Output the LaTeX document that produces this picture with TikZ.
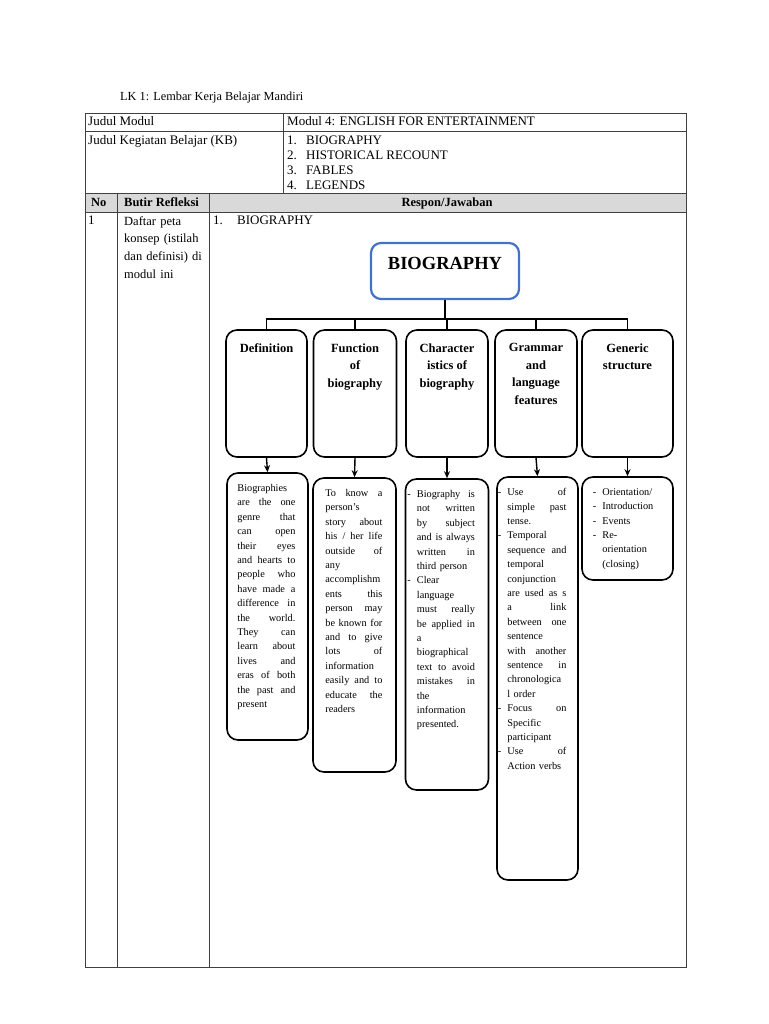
\documentclass[tikz,border=0pt]{standalone}
\usepackage{fontspec}
\setmainfont{Liberation Serif}
\usetikzlibrary{positioning, calc, arrows.meta}
\definecolor{bioblue}{HTML}{4472C4}
\definecolor{headgray}{HTML}{D9D9D9}
\newcommand{\jl}[1]{\leavevmode\hbox to \hsize{\spaceskip=3pt plus 40pt\relax #1}}
\newcommand{\dsh}{\leavevmode\llap{-\hspace{6pt}}}

\begin{document}
\begin{tikzpicture}[
  x=1pt, y=-1pt, >={Stealth[length=7pt, width=6pt]},
  tline/.style={draw=black!75, line width=0.9pt},
  cell/.style={anchor=base west, inner sep=0pt, font=\fontsize{13}{15}\selectfont},
  hbox/.style={draw, line width=1.6pt, rounded corners=11pt, minimum height=127pt},
  dbox/.style={draw, line width=1.6pt, rounded corners=11pt},
  htext/.style={inner sep=0pt, align=center, font=\bfseries\fontsize{12.5}{17.5}\selectfont},
  dtext/.style={inner sep=0pt, align=left, font=\fontsize{10.3}{14.4}\selectfont}
  ]
  \useasboundingbox (0,0) rectangle (768,1024);

  % table frame
  \fill[headgray] (85,193) rectangle (686,212);
  \draw[tline] (85,113) rectangle (686,967);
  \draw[tline] (85,131) -- (686,131);
  \draw[tline] (85,193) -- (686,193);
  \draw[tline] (85,212) -- (686,212);
  \draw[tline] (283,113) -- (283,193);
  \draw[tline] (117,193) -- (117,967);
  \draw[tline] (209,193) -- (209,967);

  \node[cell, font=\fontsize{12.3}{15}\selectfont] (title) at (120,101) {LK 1: Lembar Kerja Belajar Mandiri};
  \node[cell] (modL) at (88,126) {Judul Modul};
  \node[cell] (modR) at (287,126) {Modul 4: ENGLISH FOR ENTERTAINMENT};
  \node[cell] (kbL) at (88,144.5) {Judul Kegiatan Belajar (KB)};
  \node[cell] (kb1) at (287,144.5) {1.};
  \node[cell] (kb1t) at (306,144.5) {BIOGRAPHY};
  \node[cell] (kb2) at (287,159.5) {2.};
  \node[cell] (kb2t) at (306,159.5) {HISTORICAL RECOUNT};
  \node[cell] (kb3) at (287,174.5) {3.};
  \node[cell] (kb3t) at (306,174.5) {FABLES};
  \node[cell] (kb4) at (287,189.5) {4.};
  \node[cell] (kb4t) at (306,189.5) {LEGENDS};
  \node[cell, font=\bfseries\fontsize{12.5}{15}\selectfont] (hNo) at (91,207) {No};
  \node[cell, font=\bfseries\fontsize{12.5}{15}\selectfont] (hButir) at (124,207) {Butir Refleksi};
  \node[cell, anchor=base, font=\bfseries\fontsize{12.5}{15}\selectfont] (hResp) at (447,207) {Respon/Jawaban};
  \node[cell] (no1) at (88,225) {1};
  \node[cell, anchor=north west, text width=84pt, align=left,
        font=\fontsize{12.5}{17.8}\selectfont] (butir) at (124,216) {Daftar peta\\ konsep (istilah\\ dan definisi) di\\ modul ini};
  \node[cell] (r1) at (213,225) {1.};
  \node[cell] (r1t) at (237,225) {BIOGRAPHY};

  % concept map
  \node[draw=bioblue, line width=2.2pt, rounded corners=10pt, minimum width=148pt, minimum height=56pt,
        text depth=15pt, font=\bfseries\fontsize{18.5}{20}\selectfont] (bio) at (445,271) {BIOGRAPHY};

  \node[hbox, minimum width=81pt] (defH) at (266.5,393.5) {};
  \node[hbox, minimum width=83pt] (funH) at (355,393.5) {};
  \node[hbox, minimum width=82pt] (chaH) at (447,393.5) {};
  \node[hbox, minimum width=82pt] (graH) at (536,393.5) {};
  \node[hbox, minimum width=91pt] (genH) at (627.5,393.5) {};

  \node[htext, below=14pt of defH.north] (defL) {Definition};
  \node[htext, below=14pt of funH.north] (funL) {Function\\ of\\ biography};
  \node[htext, below=14pt of chaH.north] (chaL) {Character\\ istics of\\ biography};
  \node[htext, below=14pt of graH.north] (graL) {Grammar\\ and\\ language\\ features};
  \node[htext, below=14pt of genH.north] (genL) {Generic\\ structure};

  \coordinate (hub) at (445,319);
  \draw[line width=1.4pt] (bio.south) -- (hub);
  \foreach \n in {defH,funH,chaH,graH,genH}
    \draw[line width=1.4pt] (hub) -| (\n.north);

  \node[dbox, minimum width=81pt, minimum height=267pt] (defB) at (267.5,606.5) {};
  \node[dbox, minimum width=83pt, minimum height=294pt] (funB) at (354.5,625) {};
  \node[dbox, minimum width=83pt, minimum height=311pt] (chaB) at (447,634.5) {};
  \node[dbox, minimum width=81pt, minimum height=403pt] (graB) at (537.5,678.5) {};
  \node[dbox, minimum width=91pt, minimum height=103pt] (genB) at (627.5,528.5) {};

  \foreach \a/\b in {defH/defB,funH/funB,chaH/chaB,graH/graB,genH/genB}
    \draw[->, line width=1.4pt] (\a.south) -- (\b.north);

  \node[dtext, text width=58pt, below right=12pt and 11pt of defB.north west] (defT) {%
    Biographies\\ \jl{are the one}\\ \jl{genre that}\\ \jl{can open}\\ \jl{their eyes}\\
    \jl{and hearts to}\\ \jl{people who}\\ \jl{have made a}\\ \jl{difference in}\\ \jl{the world.}\\
    \jl{They can}\\ \jl{learn about}\\ \jl{lives and}\\ \jl{eras of both}\\ \jl{the past and}\\ present};
  \node[dtext, text width=57pt, below right=12pt and 13pt of funB.north west] (funT) {%
    \jl{To know a}\\ person's\\ \jl{story about}\\ \jl{his / her life}\\ \jl{outside of}\\ any\\
    accomplishm\\ \jl{ents this}\\ \jl{person may}\\ \jl{be known for}\\ \jl{and to give}\\
    \jl{lots of}\\ information\\ \jl{easily and to}\\ \jl{educate the}\\ readers};
  \node[dtext, text width=58pt, below right=12pt and 12pt of chaB.north west] (chaT) {%
    \dsh\jl{Biography is}\\ \jl{not written}\\ \jl{by subject}\\ \jl{and is always}\\ \jl{written in}\\
    third person\\ \dsh Clear\\ language\\ \jl{must really}\\ \jl{be applied in}\\ a\\ biographical\\
    \jl{text to avoid}\\ \jl{mistakes in}\\ the\\ information\\ presented.};
  \node[dtext, text width=59pt, below right=12pt and 11pt of graB.north west] (graT) {%
    \dsh\jl{Use of}\\ \jl{simple past}\\ tense.\\ \dsh Temporal\\ \jl{sequence and}\\ temporal\\
    conjunction\\ \jl{are used as s}\\ \jl{a link}\\ \jl{between one}\\ sentence\\ \jl{with another}\\
    \jl{sentence in}\\ chronologica\\ l order\\ \dsh\jl{Focus on}\\ Specific\\ participant\\
    \dsh\jl{Use of}\\ Action verbs};
  \node[dtext, text width=62pt, below right=12pt and 21pt of genB.north west] (genT) {%
    \dsh Orientation/\\ \dsh Introduction\\ \dsh Events\\ \dsh Re-\\ orientation\\ (closing)};
\end{tikzpicture}
\end{document}
